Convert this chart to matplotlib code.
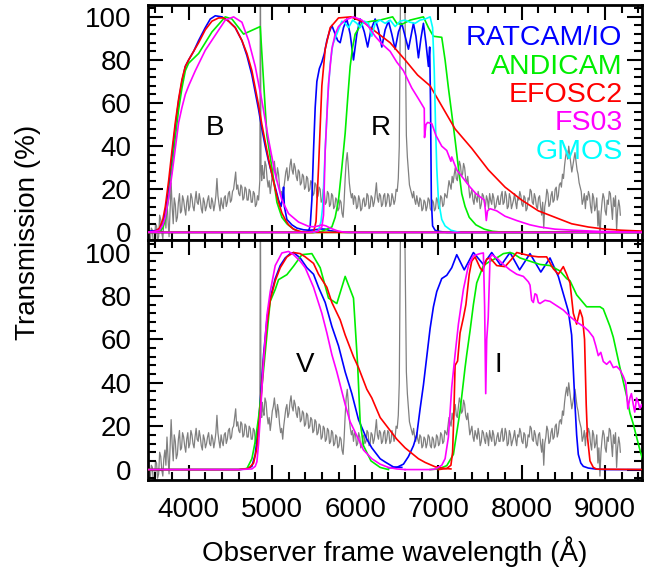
import matplotlib
matplotlib.use('Agg')
import matplotlib.pyplot as plt
from matplotlib.ticker import MultipleLocator

plt.rcParams['font.family'] = ['Liberation Sans', 'DejaVu Sans']

# ---------------- gray comparison spectrum (scaled, %) ----------------
spec_wl = [3540, 3552, 3565, 3577, 3590, 3602, 3615, 3627, 3640, 3652, 3665, 3677, 3690, 3702, 3715,
           3727, 3740, 3752, 3765, 3777, 3790, 3802, 3815, 3827, 3840, 3852, 3865, 3877, 3890, 3902,
           3915, 3927, 3940, 3952, 3965, 3977, 3990, 4002, 4015, 4027, 4040, 4052, 4065, 4077, 4090,
           4102, 4115, 4127, 4140, 4152, 4165, 4177, 4190, 4202, 4215, 4227, 4240, 4252, 4265, 4277,
           4290, 4302, 4315, 4327, 4340, 4352, 4365, 4377, 4390, 4402, 4415, 4427, 4440, 4452, 4465,
           4477, 4490, 4502, 4515, 4527, 4540, 4552, 4565, 4577, 4590, 4602, 4615, 4627, 4640, 4652,
           4665, 4677, 4690, 4702, 4715, 4727, 4740, 4752, 4765, 4777, 4790, 4802, 4815, 4827, 4840,
           4855, 4862, 4869, 4877, 4885, 4895, 4905, 4917, 4930, 4942, 4955, 4967, 4980, 4992, 5005,
           5017, 5030, 5042, 5055, 5067, 5080, 5092, 5105, 5117, 5130, 5142, 5155, 5167, 5180, 5192,
           5205, 5217, 5230, 5242, 5255, 5267, 5280, 5292, 5305, 5317, 5330, 5342, 5355, 5367, 5380,
           5392, 5405, 5417, 5430, 5442, 5455, 5467, 5480, 5492, 5505, 5517, 5530, 5542, 5555, 5567,
           5580, 5592, 5605, 5617, 5630, 5642, 5655, 5667, 5680, 5692, 5705, 5717, 5730, 5742, 5755,
           5767, 5780, 5792, 5805, 5817, 5830, 5842, 5855, 5867, 5880, 5892, 5905, 5917, 5930, 5942,
           5955, 5967, 5980, 5992, 6005, 6017, 6030, 6042, 6055, 6067, 6080, 6092, 6105, 6117, 6130,
           6142, 6155, 6167, 6180, 6192, 6205, 6217, 6230, 6242, 6255, 6267, 6280, 6292, 6305, 6317,
           6330, 6342, 6355, 6367, 6380, 6392, 6405, 6417, 6430, 6442, 6455, 6467, 6480, 6492, 6505,
           6518, 6530, 6545, 6570, 6595, 6615, 6627, 6640, 6652, 6665, 6677, 6690, 6702, 6715, 6727,
           6740, 6752, 6765, 6777, 6790, 6802, 6815, 6827, 6840, 6852, 6865, 6877, 6890, 6902, 6915,
           6927, 6940, 6952, 6965, 6977, 6990, 7002, 7015, 7027, 7040, 7052, 7065, 7077, 7090, 7102,
           7115, 7127, 7140, 7152, 7165, 7177, 7190, 7202, 7215, 7227, 7240, 7252, 7265, 7277, 7290,
           7302, 7315, 7327, 7340, 7352, 7365, 7377, 7390, 7402, 7415, 7427, 7440, 7452, 7465, 7477,
           7490, 7502, 7515, 7527, 7540, 7552, 7565, 7577, 7590, 7602, 7615, 7627, 7640, 7652, 7665,
           7677, 7690, 7702, 7715, 7727, 7740, 7752, 7765, 7777, 7790, 7802, 7815, 7827, 7840, 7852,
           7865, 7877, 7890, 7902, 7915, 7927, 7940, 7952, 7965, 7977, 7990, 8002, 8015, 8027, 8040,
           8052, 8065, 8077, 8090, 8102, 8115, 8127, 8140, 8152, 8165, 8177, 8190, 8202, 8215, 8227,
           8240, 8252, 8265, 8277, 8290, 8302, 8315, 8327, 8340, 8352, 8365, 8377, 8390, 8402, 8415,
           8427, 8440, 8452, 8465, 8477, 8490, 8502, 8515, 8527, 8540, 8552, 8565, 8577, 8590, 8602,
           8615, 8627, 8640, 8652, 8665, 8677, 8690, 8702, 8715, 8727, 8740, 8752, 8765, 8777, 8790,
           8802, 8815, 8827, 8840, 8852, 8865, 8877, 8890, 8902, 8915, 8927, 8940, 8952, 8965, 8977,
           8990, 9002, 9015, 9027, 9040, 9052, 9065, 9077, 9090, 9102, 9115, 9127, 9140, 9152, 9165,
           9177, 9185]
spec_flux = [-4, 2, 1, -6, -5, 4, 3, -4, -2, 8, 6, 0, -3, 5, 9,
             2, 15, 6, -2, 10, 23, 12, 4, 16, 13, 5, 7, 14, 18, 9,
             10, 17, 15, 11, 8, 14, 17, 10, 12, 18, 16, 12, 10, 15, 19,
             14, 13, 18, 15, 11, 9, 16, 14, 10, 12, 15, 17, 12, 11, 16,
             14, 10, 13, 17, 25, 17, 13, 10, 16, 13, 11, 16, 17, 12, 14,
             18, 19, 14, 15, 19, 20, 24, 28, 20, 22, 18, 17, 22, 21, 15,
             16, 21, 20, 15, 15, 20, 19, 14, 14, 19, 18, 12, 13, 17, 15,
             24, 125, 30, 24, 31, 27, 25, 33, 31, 25, 21, 24, 18, 22, 27,
             29, 33, 28, 24, 30, 27, 21, 17, 19, 14, 20, 24, 28, 30, 24,
             26, 31, 34, 29, 27, 32, 30, 26, 24, 29, 28, 22, 23, 27, 26,
             20, 21, 26, 25, 19, 20, 24, 23, 17, 18, 23, 22, 16, 17, 21,
             20, 14, 15, 20, 19, 13, 14, 19, 18, 12, 13, 18, 17, 11, 12,
             16, 15, 10, 11, 15, 14, 9, 7, 14, 25, 33, 37, 31, 23, 19,
             16, 18, 13, 17, 16, 11, 12, 17, 15, 10, 11, 15, 16, 12, 13,
             18, 17, 11, 12, 17, 16, 12, 14, 18, 23, 16, 14, 18, 17, 12,
             13, 17, 18, 12, 14, 18, 17, 12, 13, 18, 16, 13, 15, 20, 19,
             25, 40, 115, 135, 115, 45, 35, 28, 22, 20, 18, 16, 19, 15, 13,
             17, 14, 12, 16, 15, 10, 11, 15, 14, 10, 12, 16, 15, 11, 10,
             15, 14, 10, 11, 16, 15, 11, 12, 17, 16, 12, 13, 18, 17, 16,
             20, 24, 22, 20, 26, 23, 27, 30, 25, 24, 29, 33, 31, 26, 27,
             32, 30, 25, 23, 26, 21, 16, 18, 20, 15, 13, 18, 16, 14, 19,
             16, 11, 13, 18, 17, 14, 12, 17, 15, 11, 18, 15, 13, 18, 16,
             11, 12, 15, 17, 13, 13, 17, 19, 13, 14, 19, 17, 11, 12, 18,
             16, 11, 13, 15, 18, 14, 11, 16, 15, 19, 17, 13, 12, 17, 16,
             10, 11, 16, 15, 20, 19, 14, 13, 18, 16, 12, 11, 16, 17, 12,
             8, 14, 2, 12, 15, 20, 18, 12, 13, 17, 19, 14, 15, 20, 21,
             15, 17, 22, 23, 21, 27, 25, 31, 35, 38, 34, 40, 36, 32, 28,
             31, 34, 37, 33, 29, 27, 23, 21, 19, 13, 15, 18, 11, 17, 15,
             19, 17, 12, 9, 18, 16, 10, 12, 16, 3, 10, -3, 8, 14, 18,
             16, 10, 8, 15, 13, 19, 18, 12, 6, 16, 12, 17, 1, 10, 15,
             12, 8]

# ---------------- top panel: B and R filters ----------------
ratcam_B_wl = [3500, 3600, 3650, 3690, 3720, 3760, 3800, 3840, 3880, 3920, 3960, 4000, 4060, 4120, 4200,
               4260, 4320, 4400, 4480, 4560, 4640, 4700, 4760, 4800, 4840, 4880, 4920, 4960, 5000, 5040,
               5080, 5110, 5130, 5140, 5150, 5180, 5240, 5300, 5380, 5450, 5520, 5580, 5640, 5700, 5800,
               5900, 9500]
ratcam_B_T = [0.5, 0.8, 1.5, 4, 9, 20, 35, 49, 61, 70, 77, 80, 84, 89, 95,
              99, 100.5, 100, 98, 95, 89, 82, 73, 65, 57, 48, 40, 33, 27, 21,
              15, 12, 17, 21, 12, 6, 3.5, 2, 1.2, 1, 1.2, 1.6, 1.5, 0.8, 0.2,
              0, 0]
ratcam_R_wl = [3500, 5400, 5440, 5460, 5480, 5500, 5520, 5540, 5570, 5600, 5630, 5660, 5690, 5720, 5750,
               5790, 5820, 5860, 5900, 5940, 5980, 6020, 6060, 6110, 6150, 6190, 6240, 6280, 6320, 6360,
               6400, 6440, 6480, 6520, 6560, 6600, 6640, 6670, 6700, 6730, 6760, 6790, 6820, 6850, 6880,
               6895, 6905, 6915, 6930, 6960, 7000, 7100, 9500]
ratcam_R_T = [0, 0, 0.5, 3, 15, 38, 58, 70, 76, 79, 83, 89, 93, 96, 93,
              89, 88, 95, 99, 92, 80, 92, 99, 93, 86, 94, 99, 94, 86, 94,
              98, 92, 85, 93, 97, 91, 85, 91, 97, 91, 81, 90, 97, 88, 77,
              86, 60, 15, 3, 1, 0.5, 0, 0]

andicam_B_wl = [3500, 3640, 3690, 3720, 3760, 3800, 3840, 3880, 3920, 3960, 4000, 4120, 4280, 4440, 4520,
                4660, 4860, 4900, 4940, 5000, 5060, 5120, 5180, 5260, 5340, 5400, 9500]
andicam_B_T = [0, 0, 2, 6, 16, 30, 44, 57, 67, 75, 78.5, 83, 93, 100, 99,
               92, 95.5, 70, 45, 30, 14, 7, 4, 1.5, 0.3, 0, 0]
andicam_R_wl = [3500, 5500, 5600, 5720, 5760, 5800, 5840, 5880, 5910, 5940, 5970, 6000, 6080, 6200, 6300,
                6450, 6500, 6560, 6660, 6820, 6880, 6940, 7040, 7080, 7120, 7160, 7200, 7240, 7280, 7320,
                7370, 7450, 7550, 7650, 7800, 9500]
andicam_R_T = [0, 0, 0.5, 2.5, 7, 15, 30, 46, 62, 77, 86, 92, 97, 98, 98.5,
               100, 97, 96.5, 98.5, 100, 95, 91, 90.5, 80, 67, 55, 43, 30, 18, 12,
               7, 3.5, 1.5, 0.5, 0, 0]

efosc_B_wl = [3500, 3600, 3650, 3690, 3720, 3760, 3800, 3840, 3880, 3920, 3960, 4000, 4060, 4120, 4200,
              4280, 4360, 4420, 4480, 4560, 4640, 4700, 4760, 4800, 4840, 4880, 4920, 4960, 5000, 5040,
              5080, 5120, 5160, 5200, 5260, 5330, 5400, 9500]
efosc_B_T = [0, 0.5, 2, 6, 12, 24, 38, 51, 62, 71, 77, 80, 84, 88, 94,
             98, 99.5, 99.5, 98, 95, 89, 83, 75, 67, 59, 50, 42, 34, 27, 20,
             14, 9, 6, 3.5, 1.5, 0.5, 0, 0]
efosc_R_wl = [3500, 5500, 5530, 5560, 5600, 5640, 5700, 5800, 5950, 6100, 6250, 6420, 6600, 6750, 6900,
              7050, 7200, 7400, 7600, 7800, 8000, 8200, 8400, 8600, 8800, 9000, 9200, 9500]
efosc_R_T = [0, 0, 5, 30, 68, 85, 95, 99.5, 100, 97.5, 93, 88, 80, 73, 68,
             58, 48, 39, 29, 21, 15, 10, 7, 4, 2.5, 1.5, 1, 0.5]

fs03_B_wl = [3500, 3600, 3650, 3690, 3720, 3760, 3800, 3840, 3880, 3920, 3960, 4000, 4080, 4200, 4320,
             4440, 4540, 4640, 4720, 4800, 4880, 4960, 5040, 5120, 5200, 5320, 5440, 5500, 5560, 5600,
             5650, 5700, 5780, 5850, 5950, 9500]
fs03_B_T = [0, 0.5, 1, 3.5, 7, 16, 27, 39, 51, 58, 64, 68, 75, 84.5, 91.5,
            98.5, 100, 97.5, 89, 77, 61, 43, 27, 15, 8.7, 4.8, 2.8, 2.6, 3, 3.5,
            3, 2, 0.8, 0.2, 0, 0]
fs03_R_wl = [3500, 5450, 5550, 5600, 5620, 5640, 5680, 5720, 5760, 5800, 5880, 5980, 6080, 6160, 6240,
             6320, 6420, 6500, 6580, 6680, 6760, 6830, 6833, 6850, 6870, 6920, 6970, 7040, 7100, 7150,
             7160, 7220, 7300, 7380, 7450, 7550, 7565, 7575, 7590, 7620, 7700, 7800, 7940, 8100, 8220,
             8400, 8620, 8900, 9200, 9500]
fs03_R_T = [0, 0, 0.5, 2.5, 8, 38, 69, 85, 92, 95.5, 98.5, 100, 98.5, 95.5, 91,
            87.5, 84, 79, 75, 67, 62, 57.5, 44, 50, 51, 50.5, 45, 40, 38, 33,
            35, 29, 25, 21, 18, 15, 10, 5.5, 10, 11, 10, 7.5, 5.5, 3.5, 2.5,
            1.5, 1, 0.5, 0.2, 0]

gmos_R_wl = [5500, 5560, 5590, 5610, 5640, 5670, 5700, 5730, 5780, 5840, 5880, 5920, 5970, 6020, 6060,
             6110, 6160, 6200, 6240, 6300, 6360, 6420, 6480, 6540, 6600, 6660, 6720, 6780, 6840, 6900,
             6930, 6950, 6965, 6980, 7000, 7040, 7080, 7150, 7250]
gmos_R_T = [0, 1, 5, 12, 38, 62, 78, 87, 92, 98, 97, 95, 98.5, 97, 95,
            98, 97, 91, 97, 98.5, 97, 98.5, 95.5, 98, 98.5, 97.5, 97, 98.5, 99, 100,
            95, 75, 50, 30, 15, 6, 3, 1, 0]

# ---------------- bottom panel: V and I filters ----------------
ratcam_V_wl = [3500, 4600, 4700, 4760, 4800, 4830, 4860, 4900, 4940, 4980, 5040, 5100, 5160, 5220, 5260,
               5340, 5420, 5500, 5560, 5640, 5720, 5800, 5880, 5960, 6040, 6140, 6200, 6300, 6360, 6460,
               6560]
ratcam_V_T = [0, 0, 0.3, 1.5, 7, 17, 31, 53, 69, 79, 88, 94, 97.5, 99.5, 100,
              97.5, 93, 90, 84, 77, 66, 57, 45, 35, 23, 14, 10, 5, 3.5, 1.2,
              1.0]
ratcam_I_wl = [6400, 6500, 6580, 6640, 6700, 6740, 6780, 6820, 6860, 6900, 6940, 6980, 7040, 7100, 7160,
               7220, 7310, 7420, 7540, 7640, 7750, 7860, 7975, 8100, 8230, 8340, 8440, 8500, 8560, 8600,
               8620, 8640, 8660, 8680, 8710, 8740, 8800, 8900, 9000, 9500]
ratcam_I_T = [0.8, 1, 2.5, 6, 11, 16, 28, 39, 52, 65, 75, 82, 88, 89.5, 93,
              99, 92, 100, 94.5, 100, 94, 100, 92, 99.5, 91, 97.5, 89, 81, 73, 62,
              46, 30, 16, 7, 3, 1.5, 0.7, 0.2, 0, 0]

andicam_V_wl = [3500, 4600, 4700, 4760, 4800, 4840, 4880, 4920, 4960, 4980, 5040, 5080, 5180, 5260, 5360,
                5480, 5580, 5680, 5780, 5880, 5980, 6030, 6060, 6100, 6190, 6300, 6400]
andicam_V_T = [0, 0, 0.5, 5, 13, 24, 38, 54, 70, 77.5, 83, 87.5, 89.8, 93.7, 99,
               99.5, 93, 79, 76.5, 89, 79, 48, 22, 11, 4, 1, 0]
andicam_I_wl = [6900, 7000, 7100, 7180, 7240, 7260, 7320, 7340, 7380, 7420, 7460, 7500, 7540, 7620, 7700,
                7780, 7860, 7900, 7980, 8100, 8220, 8340, 8460, 8540, 8580, 8660, 8780, 8940, 8980, 9060,
                9100, 9180, 9260, 9300, 9340, 9420, 9450]
andicam_I_T = [0, 0.3, 1.8, 7, 22, 27, 47, 53, 64, 76, 86, 90, 94, 96, 97.5,
               99.5, 100, 99.5, 97.5, 96, 94.5, 94, 91.5, 88, 87, 80.5, 75, 75, 74, 66,
               61, 47, 34, 26, 21, 9, 5]

efosc_V_wl = [3500, 4600, 4720, 4780, 4820, 4860, 4900, 4940, 4980, 5040, 5100, 5180, 5260, 5340, 5400,
              5500, 5560, 5660, 5720, 5820, 5880, 5980, 6040, 6140, 6200, 6300, 6360, 6500, 6600, 6680,
              6760, 6840, 6960, 7080, 7150]
efosc_V_T = [0, 0, 0.5, 3, 10, 27, 50, 67, 78, 87, 93, 98, 100, 99.5, 98,
             95, 90, 84, 77, 69, 62, 52, 47, 37, 33, 24, 21, 14, 10, 7.5,
             5, 3.3, 1.3, 0.5, 0.3]
efosc_I_wl = [7000, 7100, 7150, 7170, 7185, 7200, 7230, 7260, 7300, 7330, 7370, 7400, 7440, 7500, 7530,
              7580, 7620, 7700, 7800, 7880, 7940, 8100, 8200, 8300, 8380, 8440, 8500, 8540, 8580, 8620,
              8660, 8700, 8730, 8755, 8775, 8790, 8820, 8860, 8900, 9500]
efosc_I_T = [0, 0.5, 2, 8, 25, 48, 50, 63, 70, 76, 90, 96, 98, 93, 91.5,
             97, 97.5, 94, 93.5, 97, 100, 98.5, 98, 98, 92.5, 90, 93.5, 90, 86, 72,
             67, 73.5, 70, 60, 30, 15, 4, 1, 0.2, 0]

fs03_V_wl = [3500, 4600, 4760, 4800, 4820, 4840, 4860, 4900, 4940, 4980, 5040, 5120, 5200, 5260, 5340,
             5400, 5500, 5600, 5660, 5720, 5780, 5820, 5880, 5940, 6040, 6100, 6200, 6300, 6400, 6500,
             6600]
fs03_V_T = [0, 0, 0.3, 1.5, 3.6, 12, 24, 50, 71, 82, 94, 99.8, 100.5, 99, 96,
            93, 84, 72, 63, 53, 45, 39, 30, 22, 14, 9, 5, 2.5, 1, 0.3,
            0]
fs03_I_wl = [6600, 6900, 6960, 7040, 7080, 7120, 7160, 7200, 7240, 7300, 7360, 7420, 7500, 7540, 7555,
             7568, 7580, 7598, 7620, 7640, 7700, 7780, 7860, 7940, 8020, 8080, 8100, 8120, 8140, 8160,
             8180, 8200, 8220, 8280, 8340, 8420, 8500, 8580, 8660, 8740, 8800, 8860, 8890, 8920, 8950,
             8980, 9020, 9060, 9100, 9140, 9180, 9220, 9250, 9275, 9300, 9318, 9340, 9358, 9380, 9400,
             9420, 9440, 9460]
fs03_I_T = [0, 0, 0.2, 2, 5, 15, 38, 53, 67, 83, 94, 98.5, 99.5, 99.8, 75,
            35, 60, 70, 97.5, 99, 97.5, 94.5, 92, 90, 89, 86.5, 85, 78, 77, 81,
            80.5, 77, 76.5, 78, 77.5, 75.5, 73.5, 70.5, 68, 66, 64, 61, 57, 52.5, 54,
            49.8, 48.5, 50, 47, 47.5, 46, 43, 40, 28, 33, 35, 30, 26.5, 33, 31,
            28, 30, 28]

names = ['RATCAM/IO', 'ANDICAM', 'EFOSC2', 'FS03', 'GMOS']
colors = ['#0000ff', '#00ee00', '#ff0000', '#ff00ff', '#00ffff']
band_labels = ['B', 'R', 'V', 'I']

# ---------------- figure ----------------
W, H = 657, 572
fig = plt.figure(figsize=(W / 100, H / 100), dpi=100)
x0, x1 = 148 / W, 642 / W
ax1 = fig.add_axes([x0, 1 - 239.5 / H, x1 - x0, (239.5 - 5) / H])
ax2 = fig.add_axes([x0, 1 - 480 / H, x1 - x0, (480 - 239.5) / H])

lw = 1.2
for ax in (ax1, ax2):
    ax.plot(spec_wl, spec_flux, color='#808080', lw=0.9, zorder=1)

c_blue, c_green, c_red, c_mag, c_cyan = colors
ax1.plot(ratcam_B_wl, ratcam_B_T, color=c_blue, lw=lw, zorder=2)
ax1.plot(ratcam_R_wl, ratcam_R_T, color=c_blue, lw=lw, zorder=2)
ax1.plot(andicam_B_wl, andicam_B_T, color=c_green, lw=lw, zorder=3)
ax1.plot(andicam_R_wl, andicam_R_T, color=c_green, lw=lw, zorder=3)
ax1.plot(efosc_B_wl, efosc_B_T, color=c_red, lw=lw, zorder=4)
ax1.plot(efosc_R_wl, efosc_R_T, color=c_red, lw=lw, zorder=4)
ax1.plot(gmos_R_wl, gmos_R_T, color=c_cyan, lw=lw, zorder=5)
ax1.plot(fs03_B_wl, fs03_B_T, color=c_mag, lw=lw, zorder=6)
ax1.plot(fs03_R_wl, fs03_R_T, color=c_mag, lw=lw, zorder=6)

ax2.plot(ratcam_V_wl, ratcam_V_T, color=c_blue, lw=lw, zorder=2)
ax2.plot(ratcam_I_wl, ratcam_I_T, color=c_blue, lw=lw, zorder=2)
ax2.plot(andicam_V_wl, andicam_V_T, color=c_green, lw=lw, zorder=3)
ax2.plot(andicam_I_wl, andicam_I_T, color=c_green, lw=lw, zorder=3)
ax2.plot(efosc_V_wl, efosc_V_T, color=c_red, lw=lw, zorder=4)
ax2.plot(efosc_I_wl, efosc_I_T, color=c_red, lw=lw, zorder=4)
ax2.plot(fs03_V_wl, fs03_V_T, color=c_mag, lw=lw, zorder=6)
ax2.plot(fs03_I_wl, fs03_I_T, color=c_mag, lw=lw, zorder=6)

fs = 20
for ax, ylim in ((ax1, (-3.3, 105.5)), (ax2, (-4.8, 106))):
    ax.set_xlim(3512, 9445)
    ax.set_ylim(*ylim)
    ax.xaxis.set_major_locator(MultipleLocator(1000))
    ax.xaxis.set_minor_locator(MultipleLocator(200))
    ax.yaxis.set_major_locator(MultipleLocator(20))
    ax.yaxis.set_minor_locator(MultipleLocator(4))
    ax.tick_params(which='both', direction='in', top=True, right=True, width=1.5,
                   labelsize=fs, pad=12)
    ax.tick_params(which='major', length=11)
    ax.tick_params(which='minor', length=6)
    for s in ax.spines.values():
        s.set_linewidth(2)
ax1.tick_params(labelbottom=False)

# band labels
ax1.text(4320, 45, band_labels[0], fontsize=fs, ha='center', va='baseline')
ax1.text(6310, 45, band_labels[1], fontsize=fs, ha='center', va='baseline')
ax2.text(5400, 45, band_labels[2], fontsize=fs, ha='center', va='baseline')
ax2.text(7718, 45, band_labels[3], fontsize=fs, ha='center', va='baseline')

# coloured instrument legend
for i, (n, c) in enumerate(zip(names, colors)):
    ax1.text(9210, 86.8 - 13.15 * i, n, color=c, fontsize=20.5, ha='right', va='baseline', zorder=10)

fig.text(28 / W, 1 - 232 / H, 'Transmission (%)', rotation=90, fontsize=fs,
         ha='center', va='center')
fig.text(395 / W, 1 - 552 / H, 'Observer frame wavelength (Å)', fontsize=fs,
         ha='center', va='center')

fig.savefig('out.png', dpi=100)
